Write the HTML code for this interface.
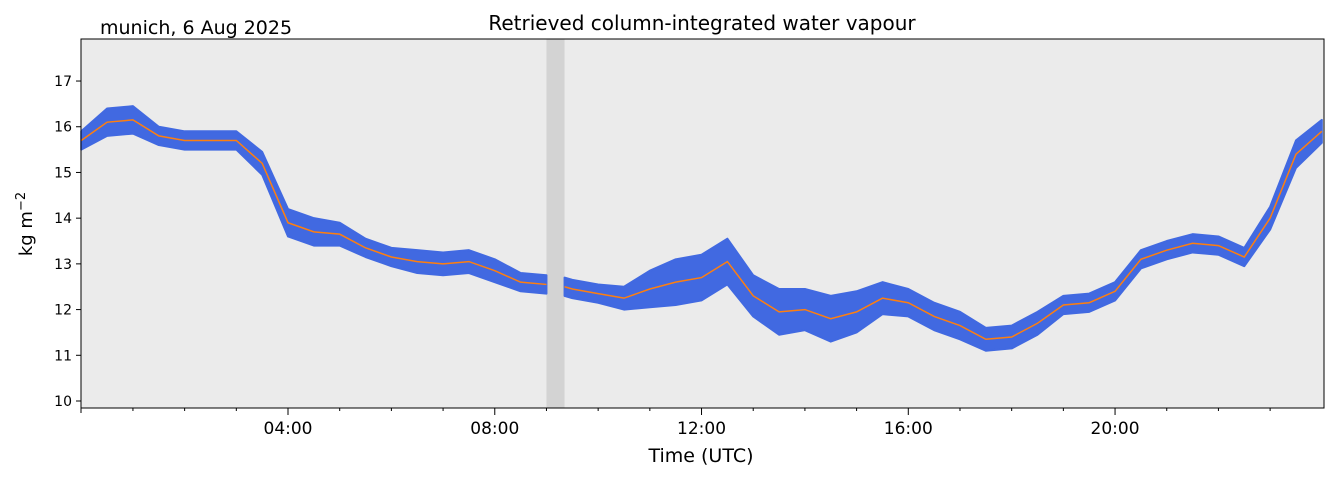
<!DOCTYPE html>
<html><head><meta charset="utf-8"><style>
body{margin:0;background:#fff;}
svg{display:block;font-family:"DejaVu Sans","Liberation Sans",sans-serif;}
</style></head><body>
<svg id="chart" width="1334" height="478">
<rect x="81" y="39" width="1243" height="369" fill="#ebebeb"/>
<g id="marks"></g>
<rect x="81" y="39" width="1243" height="369" fill="none" stroke="#000" stroke-width="1"/>
<g id="axes"></g>
<text x="100" y="34" font-size="19">munich, 6 Aug 2025</text>
<text x="702" y="30" font-size="20" text-anchor="middle">Retrieved column-integrated water vapour</text>
<text x="701" y="462" font-size="19" text-anchor="middle">Time (UTC)</text>
<text transform="translate(32,224) rotate(-90)" font-size="18" text-anchor="middle">kg m<tspan dy="-7" font-size="13">−2</tspan></text>
</svg>
<script>
const hours = [0,0.5,1,1.5,2,2.5,3,3.5,4,4.5,5,5.5,6,6.5,7,7.5,8,8.5,9,9.35,9.5,10,10.5,11,11.5,12,12.5,13,13.5,14,14.5,15,15.5,16,16.5,17,17.5,18,18.5,19,19.5,20,20.5,21,21.5,22,22.5,23,23.5,24];
const meanIwv = [15.7,16.1,16.15,15.8,15.7,15.7,15.7,15.2,13.9,13.7,13.65,13.35,13.15,13.05,13.0,13.05,12.85,12.6,12.55,12.5,12.45,12.35,12.25,12.45,12.6,12.7,13.05,12.3,11.95,12.0,11.8,11.95,12.25,12.15,11.85,11.65,11.35,11.4,11.7,12.1,12.15,12.4,13.1,13.3,13.45,13.4,13.15,14.0,15.4,15.9];
const spreadIwv = [0.2,0.3,0.3,0.2,0.2,0.2,0.2,0.25,0.3,0.3,0.25,0.2,0.2,0.25,0.25,0.25,0.25,0.2,0.2,0.2,0.2,0.2,0.25,0.4,0.5,0.5,0.5,0.45,0.5,0.45,0.5,0.45,0.35,0.3,0.3,0.3,0.25,0.25,0.25,0.2,0.2,0.2,0.2,0.2,0.2,0.2,0.2,0.25,0.3,0.25];
const gapStart = 9.0, gapEnd = 9.35;
const yTicks = [10,11,12,13,14,15,16,17];
const xTicks = [4,8,12,16,20];
const xTickLabels = ["04:00","08:00","12:00","16:00","20:00"];

const NS="http://www.w3.org/2000/svg";
const X = h => 81.25 + h*51.69;
const Y = v => 401 - (v-10)*45.71;
const marks = document.getElementById('marks');
const axes = document.getElementById('axes');
function mk(tag, attrs, parent){const e=document.createElementNS(NS,tag);for(const k in attrs)e.setAttribute(k,attrs[k]);parent.appendChild(e);return e;}

const gap = mk('rect',{x:X(gapStart),y:39,width:X(gapEnd)-X(gapStart),height:369,fill:'#d3d3d3'},marks);



function segments(){
  const a=[],b=[];
  hours.forEach((h,i)=>{ if(h<=gapStart) a.push(i); else if(h>=gapEnd) b.push(i); });
  return [a,b];
}
segments().forEach(idx=>{
  let up=idx.map(i=>X(hours[i])+','+Y(meanIwv[i]+spreadIwv[i]));
  let lo=idx.slice().reverse().map(i=>X(hours[i])+','+Y(meanIwv[i]-spreadIwv[i]));
  const p=mk('polygon',{points:up.concat(lo).join(' '),fill:'#4169e1',stroke:'#4169e1','stroke-width':2,'stroke-linejoin':'round'},marks);
  
  
});
segments().forEach(idx=>{
  const l=mk('polyline',{points:idx.map(i=>X(hours[i])+','+Y(meanIwv[i])).join(' '),fill:'none',stroke:'#ff7f0e','stroke-width':1.5},marks);
  
  
});

yTicks.forEach(v=>{
  mk('line',{x1:76,x2:81,y1:Y(v),y2:Y(v),stroke:'#000'},axes);
  const t=mk('text',{x:72,y:Y(v)+5,'font-size':14,'text-anchor':'end'},axes);
  t.textContent=v;
  
  
});
mk('line',{x1:81,x2:81,y1:408,y2:413,stroke:'#000'},axes);
xTicks.forEach((h,i)=>{
  mk('line',{x1:X(h),x2:X(h),y1:408,y2:415,stroke:'#000'},axes);
  const t=mk('text',{x:X(h),y:434,'font-size':17,'text-anchor':'middle'},axes);
  t.textContent=xTickLabels[i];
  
  
});
for(let h=1;h<24;h++){ if(h%4) mk('line',{x1:X(h),x2:X(h),y1:408,y2:411,stroke:'#000'},axes); }
</script>
</body></html>
